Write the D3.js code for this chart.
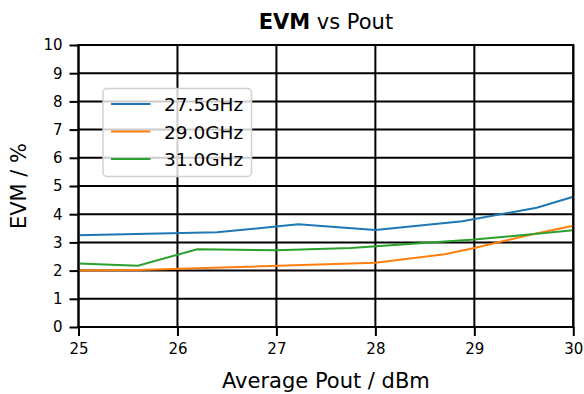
<!DOCTYPE html>
<html><head><meta charset="utf-8">
<script src="https://cdn.jsdelivr.net/npm/d3@7"></script>
<style>body{margin:0;background:#fff}svg{display:block}text{font-family:"DejaVu Sans",sans-serif;fill:#000}</style>
</head><body>
<script>
const xTicks = [25, 26, 27, 28, 29, 30];
const yTicks = [0, 1, 2, 3, 4, 5, 6, 7, 8, 9, 10];
const seriesNames = ["27.5GHz", "29.0GHz", "31.0GHz"];
const seriesColors = ["#1f77b4", "#ff7f0e", "#2ca02c"];
const pout275 = [25, 26.4, 27.22, 28.0, 28.88, 29.63, 30];
const evm275  = [3.25, 3.36, 3.64, 3.44, 3.75, 4.23, 4.62];
const pout290 = [25, 25.6, 28.0, 28.7, 29.0, 29.6, 30];
const evm290  = [2.0, 2.02, 2.28, 2.58, 2.80, 3.30, 3.59];
const pout310 = [25, 25.6, 26.2, 27.0, 27.75, 29.0, 30];
const evm310  = [2.25, 2.17, 2.76, 2.72, 2.80, 3.10, 3.43];

const W = 584, H = 394;
const L = 78.5, R = 573.3, T = 45, B = 327;
const svg = d3.select("body").append("svg").attr("width", W).attr("height", H);
const x = d3.scaleLinear().domain([25, 30]).range([L, R]);
const y = d3.scaleLinear().domain([0, 10]).range([B, T]);

// grid
const g = svg.append("g");
g.selectAll(".gx").data(xTicks).join("line")
  .attr("x1", d => x(d)).attr("x2", d => x(d)).attr("y1", T).attr("y2", B)
  .attr("stroke", "#000").attr("stroke-width", 2);
g.selectAll(".gy").data(yTicks).join("line")
  .attr("x1", L).attr("x2", R).attr("y1", d => y(d)).attr("y2", d => y(d))
  .attr("stroke", "#000").attr("stroke-width", 2);

// series
const series = [[pout275, evm275], [pout290, evm290], [pout310, evm310]];
const line = d3.line().x(d => x(d[0])).y(d => y(d[1]));
series.forEach((s, i) => {
  const pts = s[0].map((v, k) => [v, s[1][k]]);
  svg.append("path").datum(pts).attr("d", line).attr("fill", "none")
    .attr("stroke", seriesColors[i]).attr("stroke-width", 2);
});

// frame
svg.append("rect").attr("x", L).attr("y", T).attr("width", R - L).attr("height", B - T)
  .attr("fill", "none").attr("stroke", "#000").attr("stroke-width", 2);

// axes
const xAxis = d3.axisBottom(x).tickValues(xTicks).tickSize(9).tickPadding(7).tickFormat(d3.format("d"));
const ax = svg.append("g").attr("transform", `translate(0,${B})`).call(xAxis);
const yAxis = d3.axisLeft(y).tickValues(yTicks).tickSize(9).tickPadding(7).tickFormat(d3.format("d"));
const ay = svg.append("g").attr("transform", `translate(${L},0)`).call(yAxis);
[ax, ay].forEach(a => {
  a.select(".domain").remove();
  a.selectAll(".tick line").attr("stroke", "#000").attr("stroke-width", 2);
  a.selectAll(".tick text").attr("font-size", 15).attr("font-family", "DejaVu Sans");
});

// title
const title = svg.append("text").attr("x", (L + R) / 2).attr("y", 29).attr("text-anchor", "middle").attr("font-size", 21);
title.append("tspan").attr("font-weight", "bold").text("EVM");
title.append("tspan").text(" vs Pout");

// axis labels
svg.append("text").attr("x", (L + R) / 2).attr("y", 388).attr("text-anchor", "middle").attr("font-size", 21).text("Average Pout / dBm");
svg.append("text").attr("transform", `translate(26,${(T + B) / 2}) rotate(-90)`).attr("text-anchor", "middle").attr("font-size", 21).text("EVM / %");

// legend
const lg = svg.append("g");
lg.append("rect").attr("x", 103).attr("y", 88.5).attr("width", 148.5).attr("height", 88).attr("rx", 4)
  .attr("fill", "rgba(255,255,255,0.8)").attr("stroke", "#d0d0d0").attr("stroke-width", 1.5);
seriesNames.forEach((n, i) => {
  const yy = 104 + i * 27.5;
  lg.append("line").attr("x1", 111).attr("x2", 150.5).attr("y1", yy).attr("y2", yy)
    .attr("stroke", seriesColors[i]).attr("stroke-width", 2);
  lg.append("text").attr("x", 164).attr("y", yy + 7.2).attr("font-size", 18.5).text(n);
});
</script>
</body></html>
